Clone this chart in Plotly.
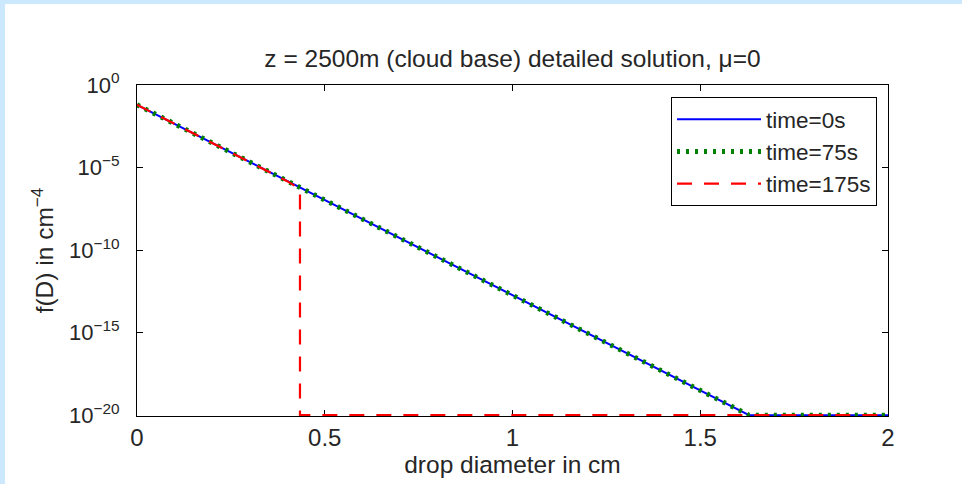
import plotly.graph_objects as go

# ---- data ----
diam_0 = [0.0, 0.1, 0.2, 0.3, 0.4, 0.5, 0.6, 0.7, 0.8, 0.9, 1.0, 1.1, 1.2, 1.3,
          1.4, 1.5, 1.6, 1.63, 1.7, 1.8, 1.9, 2.0]
f_0 = [6.3e-2, 4.4e-3, 3.1e-4, 2.2e-5, 1.5e-6, 1.1e-7, 7.4e-9, 5.2e-10, 3.6e-11,
       2.5e-12, 1.8e-13, 1.2e-14, 8.7e-16, 6.1e-17, 4.3e-18, 3.0e-19, 2.1e-20,
       1e-20, 1e-20, 1e-20, 1e-20, 1e-20]

diam_75 = [0.0, 0.1, 0.2, 0.3, 0.4, 0.5, 0.6, 0.7, 0.8, 0.9, 1.0, 1.1, 1.2, 1.3,
           1.4, 1.5, 1.6, 1.63, 1.7, 1.8, 1.9, 2.0]
f_75 = [6.3e-2, 4.4e-3, 3.1e-4, 2.2e-5, 1.5e-6, 1.1e-7, 7.4e-9, 5.2e-10, 3.6e-11,
        2.5e-12, 1.8e-13, 1.2e-14, 8.7e-16, 6.1e-17, 4.3e-18, 3.0e-19, 2.1e-20,
        1e-20, 1e-20, 1e-20, 1e-20, 1e-20]

diam_175 = [0.0, 0.1, 0.2, 0.3, 0.4, 0.434, 0.434, 0.6, 0.8, 1.0, 1.2, 1.4,
            1.6, 1.8, 2.0]
f_175 = [6.3e-2, 4.4e-3, 3.1e-4, 2.2e-5, 1.5e-6, 5.0e-7, 1e-20, 1e-20, 1e-20,
         1e-20, 1e-20, 1e-20, 1e-20, 1e-20, 1e-20]

series_names = ["time=0s", "time=75s", "time=175s"]
x_ticks = [0, 0.5, 1, 1.5, 2]
x_ticktext = ["0", "0.5", "1", "1.5", "2"]
y_ticks = [1, 1e-5, 1e-10, 1e-15, 1e-20]
y_ticktext = ["10<sup>0</sup>", "10<sup>\u22125</sup>", "10<sup>\u221210</sup>",
              "10<sup>\u221215</sup>", "10<sup>\u221220</sup>"]

FONT = "Liberation Sans, Arial, sans-serif"
TXT = "#262626"

fig = go.Figure()
fig.add_trace(go.Scatter(x=diam_0, y=f_0, mode="lines", name=series_names[0],
                         legendgroup="a",
                         line=dict(color="#0000ff", width=2)))
fig.add_trace(go.Scatter(x=diam_75, y=f_75, mode="lines", name=series_names[1],
                         legendgroup="b",
                         line=dict(color="#008000", width=5, dash="3px,6px")))
fig.add_trace(go.Scatter(x=diam_175, y=f_175, mode="lines", name=series_names[2],
                         legendgroup="c",
                         line=dict(color="#ff0000", width=2.2, dash="15px,12px")))

L, R, T, B = 137, 74, 85, 68
W, H = 962, 484
pw, ph = W - L - R, H - T - B

def px_x(p):
    return (p - L) / pw

def px_y(p):
    return (H - B - p) / ph

# light blue frame strips (left and top)
fig.add_shape(type="rect", xref="paper", yref="paper", x0=px_x(0), x1=px_x(5),
              y0=px_y(H), y1=px_y(0), fillcolor="#cce8fc", line_width=0, layer="below")
fig.add_shape(type="rect", xref="paper", yref="paper", x0=px_x(0), x1=px_x(W),
              y0=px_y(4), y1=px_y(0), fillcolor="#cce8fc", line_width=0, layer="below")

fig.update_layout(
    width=W, height=H,
    margin=dict(l=L, r=R, t=T, b=B, autoexpand=False),
    paper_bgcolor="white", plot_bgcolor="white",
    font=dict(family=FONT, size=20, color=TXT),
    title=dict(text="z = 2500m (cloud base) detailed solution, \u03bc=0",
               x=512.5 / W, xanchor="center",
               y=1 - 58 / H, yanchor="middle", yref="container",
               font=dict(family=FONT, size=24.5, color=TXT)),
    showlegend=True,
    legend=dict(x=px_x(877), xanchor="right", y=px_y(97), yanchor="top",
                bordercolor="black", borderwidth=1, bgcolor="white",
                font=dict(family=FONT, size=22.5, color=TXT),
                itemwidth=84, tracegroupgap=0),
    xaxis=dict(range=[0, 2], tickvals=x_ticks, ticktext=x_ticktext,
               showgrid=False, zeroline=False, showline=True, linecolor="black",
               linewidth=1, mirror="ticks", ticks="inside", ticklen=6,
               tickcolor="black", layer="below traces", ticklabelstandoff=0,
               automargin=False,
               tickfont=dict(family=FONT, size=24, color=TXT),
               title=dict(text="drop diameter in cm", standoff=4,
                          font=dict(family=FONT, size=24.5, color=TXT))),
    yaxis=dict(type="log", range=[-20.05, 0], tickvals=y_ticks, ticktext=y_ticktext,
               showgrid=False, zeroline=False, showline=True, linecolor="black",
               linewidth=1, mirror="ticks", ticks="inside", ticklen=6,
               tickcolor="black", layer="below traces", ticklabelstandoff=12,
               automargin=False,
               tickfont=dict(family=FONT, size=22, color=TXT),
               title=dict(text="f(D) in cm<sup>\u22124</sup>", standoff=8,
                          font=dict(family=FONT, size=24.5, color=TXT))),
)

fig.write_html("out.html")
